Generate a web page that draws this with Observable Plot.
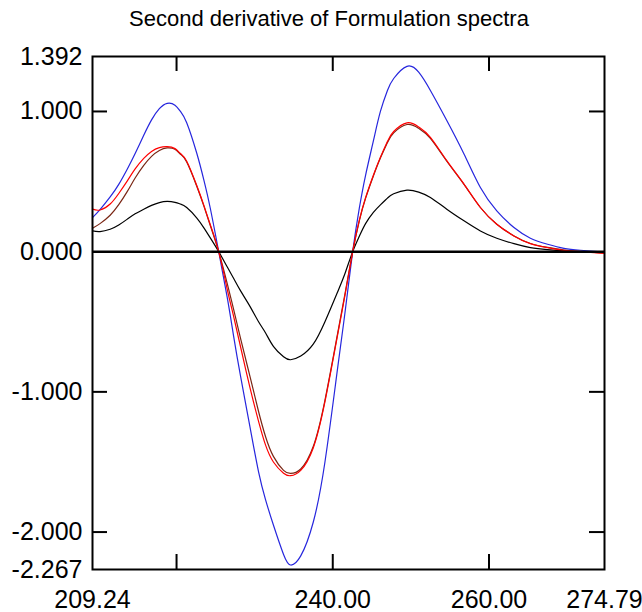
<!DOCTYPE html>
<html>
<head>
<meta charset="utf-8">
<script src="https://cdn.jsdelivr.net/npm/d3@7"></script>
<script src="https://cdn.jsdelivr.net/npm/@observablehq/plot@0.6"></script>
<style>
  body { margin: 0; background: #fff; }
  #title {
    width: 642px; height: 36px; box-sizing: border-box; padding-top: 8px; padding-left: 16px;
    font-family: "Liberation Sans", Arial, sans-serif; font-size: 22px; line-height: 22px;
    text-align: center; color: #000;
  }
</style>
</head>
<body>
<div id="title">Second derivative of Formulation spectra</div>
<div id="chart"></div>
<script>
// wavelength (x) grid shared by all series
const wavelength = [209.24, 210.2, 211.5, 212.6, 213.7, 214.7, 215.8, 216.8, 217.8, 218.8,
  219.8, 220.5, 221.3, 222.6, 223.5, 224.3, 225.4, 226.5, 227.3, 228.2,
  229.4, 230.5, 231.4, 232.4, 233.7, 234.6, 235.9, 237.5, 239.0, 240.6,
  241.6, 242.55, 243.4, 244.2, 245.2, 246.1, 247.0, 247.8, 249.5, 251.0, 252.5,
  254.6, 256.8, 258.9, 261.0, 263.2, 265.3, 267.5, 269.6, 271.7, 274.79];

const seriesBlue = [0.243, 0.30, 0.39, 0.48, 0.59, 0.70, 0.83, 0.94, 1.02, 1.058,
  1.045, 1.00, 0.92, 0.70, 0.51, 0.315, 0.0, -0.33, -0.60, -0.89,
  -1.25, -1.57, -1.77, -1.95, -2.16, -2.235, -2.17, -1.93, -1.50, -0.84,
  -0.42, 0.0, 0.31, 0.545, 0.79, 1.00, 1.15, 1.235, 1.322, 1.28, 1.15,
  0.936, 0.697, 0.458, 0.291, 0.172, 0.096, 0.053, 0.024, 0.010, -0.004];

const seriesRed = [0.303, 0.297, 0.34, 0.415, 0.505, 0.59, 0.665, 0.715, 0.742, 0.749,
  0.735, 0.70, 0.645, 0.47, 0.33, 0.196, 0.0, -0.27, -0.46, -0.68,
  -0.97, -1.21, -1.38, -1.50, -1.58, -1.598, -1.56, -1.40, -1.07, -0.60,
  -0.30, 0.0, 0.225, 0.385, 0.545, 0.673, 0.786, 0.857, 0.919, 0.89, 0.816,
  0.649, 0.482, 0.315, 0.196, 0.112, 0.057, 0.029, 0.010, 0.0, -0.012];

const seriesBrown = [0.167, 0.20, 0.26, 0.335, 0.43, 0.525, 0.615, 0.68, 0.722, 0.740,
  0.730, 0.695, 0.64, 0.465, 0.325, 0.19, 0.0, -0.23, -0.41, -0.62,
  -0.89, -1.14, -1.32, -1.46, -1.56, -1.582, -1.55, -1.39, -1.06, -0.59,
  -0.29, 0.0, 0.22, 0.38, 0.54, 0.668, 0.778, 0.847, 0.907, 0.88, 0.808,
  0.645, 0.48, 0.315, 0.196, 0.112, 0.058, 0.030, 0.012, 0.002, -0.010];

const seriesBlack = [0.148, 0.143, 0.16, 0.19, 0.232, 0.27, 0.303, 0.33, 0.35, 0.358,
  0.352, 0.34, 0.315, 0.24, 0.17, 0.10, 0.0, -0.11, -0.19, -0.28,
  -0.39, -0.50, -0.58, -0.675, -0.75, -0.771, -0.745, -0.66, -0.50, -0.29,
  -0.15, 0.0, 0.11, 0.20, 0.28, 0.334, 0.382, 0.413, 0.439, 0.425, 0.387,
  0.303, 0.220, 0.148, 0.096, 0.057, 0.029, 0.014, 0.005, 0.0, -0.005];

const yTickLabels = [1.392, 1.000, 0.000, -1.000, -2.000, -2.267];
const yTickMarks = [1.000, -1.000, -2.000];
const xTickLabels = [209.24, 240.00, 260.00, 274.79];
const xTickMarks = [220, 240, 260];

const W = 642, H = 576, mL = 92, mR = 38, mT = 20, mB = 43;
const plotW = W - mL - mR, plotH = H - mT - mB;
const tickLen = 15;

function rowsOf(values) {
  return values.map((v, i) => ({x: wavelength[i], y: v}));
}

const lineOpts = {x: "x", y: "y", curve: "natural", strokeWidth: 1.2};

const chart = Plot.plot({
  width: W, height: H,
  marginLeft: mL, marginRight: mR, marginTop: mT, marginBottom: mB,
  style: {fontFamily: "'Liberation Sans', Arial, sans-serif", background: "#fff", color: "#000", overflow: "visible"},
  x: {domain: [209.24, 274.79]},
  y: {domain: [-2.267, 1.392]},
  marks: [
    Plot.axisY({ticks: yTickLabels, tickFormat: d => d.toFixed(3), tickSize: 0, tickPadding: 10, fontSize: 25, label: null}),
    Plot.axisX({ticks: xTickLabels, tickFormat: d => d.toFixed(2), tickSize: 0, tickPadding: 21, fontSize: 25, label: null}),
    Plot.line(rowsOf(seriesBlack), {...lineOpts, stroke: "#000000"}),
    Plot.line(rowsOf(seriesBlue), {...lineOpts, stroke: "#2626dd"}),
    Plot.line(rowsOf(seriesBrown), {...lineOpts, stroke: "#7a2614"}),
    Plot.line(rowsOf(seriesRed), {...lineOpts, stroke: "#ff0000"}),
    Plot.ruleY([0], {stroke: "#000", strokeWidth: 2.5}),
    Plot.tickY(yTickMarks, {y: d => d, insetRight: plotW - tickLen, strokeWidth: 2}),
    Plot.tickY(yTickMarks, {y: d => d, insetLeft: plotW - tickLen, strokeWidth: 2}),
    Plot.tickX(xTickMarks, {x: d => d, insetBottom: plotH - tickLen, strokeWidth: 2}),
    Plot.tickX(xTickMarks, {x: d => d, insetTop: plotH - tickLen, strokeWidth: 2}),
    Plot.frame({stroke: "#000", strokeWidth: 2})
  ]
});
document.getElementById("chart").appendChild(chart);
</script>
</body>
</html>
